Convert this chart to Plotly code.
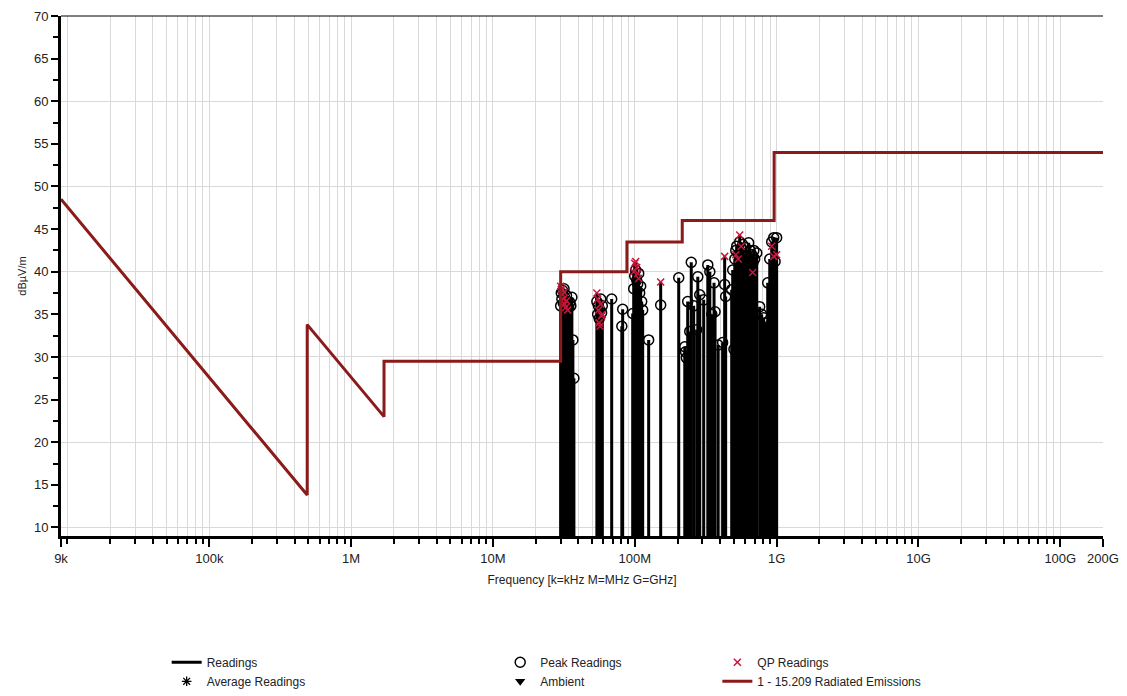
import plotly.graph_objects as go

# ---------------- data ----------------
# Readings: frequency (MHz), peak level (dBuV/m), quasi-peak level (dBuV/m or None)
freq_mhz = [30.0, 30.3, 30.6, 31.0, 31.3, 31.7, 32.0, 32.5, 33.0, 33.6, 34.2, 34.8, 35.4, 36.0, 36.6, 37.2,
            54.0, 54.7, 55.4, 56.1, 56.8, 57.5, 58.3, 59.0, 68.7, 81.0, 82.1, 96.6,
            98.2, 99.8, 101.4, 103.1, 104.8, 106.5, 108.2, 110.0, 111.8, 113.6, 125.2, 152.2,
            204, 225, 228, 231, 236, 244, 250, 260, 273, 278, 287, 306, 327, 338, 349, 362, 368, 387,
            416, 430, 437, 482, 490, 500, 507, 515, 523, 536, 549, 562, 576, 590, 605, 620, 635, 650,
            667, 678, 690, 700, 724, 759, 784, 810, 837, 865, 894, 923, 954, 975, 1000]
peak_db = [36.0, 37.5, 36.8, 37.8, 36.3, 38.0, 37.0, 36.2, 37.2, 36.5, 35.8, 36.4, 36.0, 37.0, 32.0, 27.5,
           36.5, 35.0, 36.0, 34.5, 35.5, 36.8, 35.2, 36.0, 36.8, 33.6, 35.6, 35.1,
           38.0, 39.5, 40.2, 39.0, 38.6, 39.8, 37.5, 38.3, 36.5, 35.5, 32.0, 36.1,
           39.3, 31.2, 30.6, 29.9, 36.5, 33.0, 41.1, 36.0, 33.2, 39.4, 37.3, 36.7, 40.8, 40.0, 35.0, 38.7, 35.3, 31.4,
           31.7, 38.5, 37.1, 37.9, 40.2, 30.9, 41.5, 42.5, 43.0, 42.0, 43.5, 42.8, 43.2, 42.0, 42.8, 41.5, 43.4, 42.5,
           42.0, 41.0, 42.5, 41.5, 42.2, 35.9, 35.0, 34.6, 34.0, 38.7, 41.5, 43.5, 44.0, 41.2, 44.0]
qp_db = [38.3, 37.9, 38.0, 37.3, 36.8, 37.6, 36.2, 35.8, 36.6, 35.5, None, None, None, None, None, None,
         37.5, 36.8, 35.5, 34.0, 33.6, 36.2, 34.8, 35.0, None, None, None, None,
         40.0, 41.0, 41.2, 40.5, 39.8, 39.2, None, None, None, None, None, 38.8,
         None, None, None, None, None, None, None, None, None, None, None, None, None, None, None, None, None, None,
         None, 41.8, None, None, None, None, None, 42.0, None, 41.5, 44.3, 43.0, None, None, None, None, None, None,
         None, 39.9, None, None, None, None, None, None, None, None, None, 43.0, 41.8, None, 42.0]

# Limit line "1 - 15.209 Radiated Emissions": vertices (Hz, dBuV/m)
limit_freq_hz = [9e3, 490e3, 490e3, 1.705e6, 1.705e6, 30e6, 30e6, 88e6, 88e6, 216e6, 216e6, 960e6, 960e6, 200e9]
limit_db = [48.5, 13.8, 33.8, 23.0, 29.5, 29.5, 40.0, 40.0, 43.5, 43.5, 46.0, 46.0, 54.0, 54.0]

# Axis ticks
x_tick_vals = [9e3, 1e5, 1e6, 1e7, 1e8, 1e9, 1e10, 1e11, 2e11]
x_tick_text = ["9k", "100k", "1M", "10M", "100M", "1G", "10G", "100G", "200G"]
y_tick_vals = [10, 15, 20, 25, 30, 35, 40, 45, 50, 55, 60, 65, 70]

# ---------------- build ----------------
freq_hz = [f * 1e6 for f in freq_mhz]
stem_top = [max(p, q) if q is not None else p for p, q in zip(peak_db, qp_db)]
BASE = 0.0
sx, sy = [], []
for f, t in zip(freq_hz, stem_top):
    sx += [f, f, None]
    sy += [BASE, t, None]

minor_x = []
for e in range(4, 12):
    for m in range(1, 10):
        v = m * 10 ** e
        if v < 9e3 or v > 2e11:
            continue
        if any(abs(v - t) / t < 1e-9 for t in x_tick_vals):
            continue
        minor_x.append(v)

FONT = "Liberation Sans, Arial, sans-serif"
LIMIT_COL = "#8B1A1A"
QP_COL = "#C8163C"

fig = go.Figure()

fig.add_trace(go.Scatter(x=sx, y=sy, mode="lines", name="Readings",
                         line=dict(color="black", width=3), legend="legend", hoverinfo="skip"))
fig.add_trace(go.Scatter(x=[None], y=[None], mode="markers", name="Average Readings",
                         marker=dict(symbol="asterisk-open", size=8, color="black",
                                     line=dict(color="black", width=1.3)), legend="legend"))
fig.add_trace(go.Scatter(x=freq_hz, y=peak_db, mode="markers", name="Peak Readings",
                         marker=dict(symbol="circle-open", size=10, color="black",
                                     line=dict(color="black", width=1.5)), legend="legend2"))
fig.add_trace(go.Scatter(x=[None], y=[None], mode="markers", name="Ambient",
                         marker=dict(symbol="triangle-down", size=9, color="black"), legend="legend2"))
qx = [f for f, q in zip(freq_hz, qp_db) if q is not None]
qy = [q for q in qp_db if q is not None]
fig.add_trace(go.Scatter(x=qx, y=qy, mode="markers", name="QP Readings",
                         marker=dict(symbol="x-thin-open", size=7, color=QP_COL,
                                     line=dict(color=QP_COL, width=1.5)), legend="legend3"))
fig.add_trace(go.Scatter(x=limit_freq_hz, y=limit_db, mode="lines", name="1 - 15.209 Radiated Emissions",
                         line=dict(color=LIMIT_COL, width=3), legend="legend3"))

# invisible trace to own the horizontal grid axis
fig.add_trace(go.Scatter(x=[None], y=[None], yaxis="y2", showlegend=False, hoverinfo="skip"))

legend_common = dict(font=dict(family=FONT, size=12, color="#222"), bgcolor="rgba(0,0,0,0)",
                     orientation="v", xanchor="left", yanchor="top", tracegroupgap=0,
                     itemwidth=30)

fig.update_layout(
    width=1127, height=696,
    margin=dict(l=61, r=24, t=16, b=160, autoexpand=False),
    paper_bgcolor="white", plot_bgcolor="white",
    font=dict(family=FONT, size=12, color="#222"),
    xaxis=dict(type="log", range=[3.9542425, 11.30103],
               tickmode="array", tickvals=x_tick_vals, ticktext=x_tick_text,
               ticks="outside", ticklen=8, tickwidth=2, tickcolor="black",
               showline=True, linecolor="black", linewidth=3,
               showgrid=True, gridcolor="#d9d9d9", gridwidth=1,
               minor=dict(tickmode="array", tickvals=minor_x, ticks="outside", ticklen=5,
                          tickwidth=2, tickcolor="black", showgrid=True, gridcolor="#d9d9d9", gridwidth=1),
               title=dict(text="Frequency [k=kHz M=MHz G=GHz]", font=dict(size=12, color="#222"), standoff=12),
               tickfont=dict(size=13, color="#222"), zeroline=False, automargin=False),
    yaxis=dict(range=[9, 70], tickmode="array", tickvals=y_tick_vals,
               ticks="outside", ticklen=7, tickwidth=2, tickcolor="black",
               showline=True, linecolor="black", linewidth=3,
               showgrid=False, zeroline=False,
               minor=dict(dtick=2.5, tick0=0, ticks="outside", ticklen=5, tickwidth=2, tickcolor="black",
                          showgrid=False),
               title=dict(text="dBµV/m", font=dict(size=11, color="#222"), standoff=6),
               tickfont=dict(size=13, color="#222"), automargin=False),
    yaxis2=dict(range=[9, 70], overlaying="y", tickmode="array", tickvals=[10, 20, 30, 40, 50, 60, 70],
                showgrid=True, gridcolor="#d9d9d9", gridwidth=1, showticklabels=False, ticks="",
                zeroline=False, showline=False),
    legend=dict(x=0.1014, y=-0.215, **legend_common),
    legend2=dict(x=0.4215, y=-0.215, **legend_common),
    legend3=dict(x=0.6299, y=-0.215, **legend_common),
    shapes=[dict(type="line", xref="paper", yref="paper", x0=0, x1=1, y0=1, y1=1,
                 line=dict(color="black", width=1))],
)

fig.write_html("out.html")
